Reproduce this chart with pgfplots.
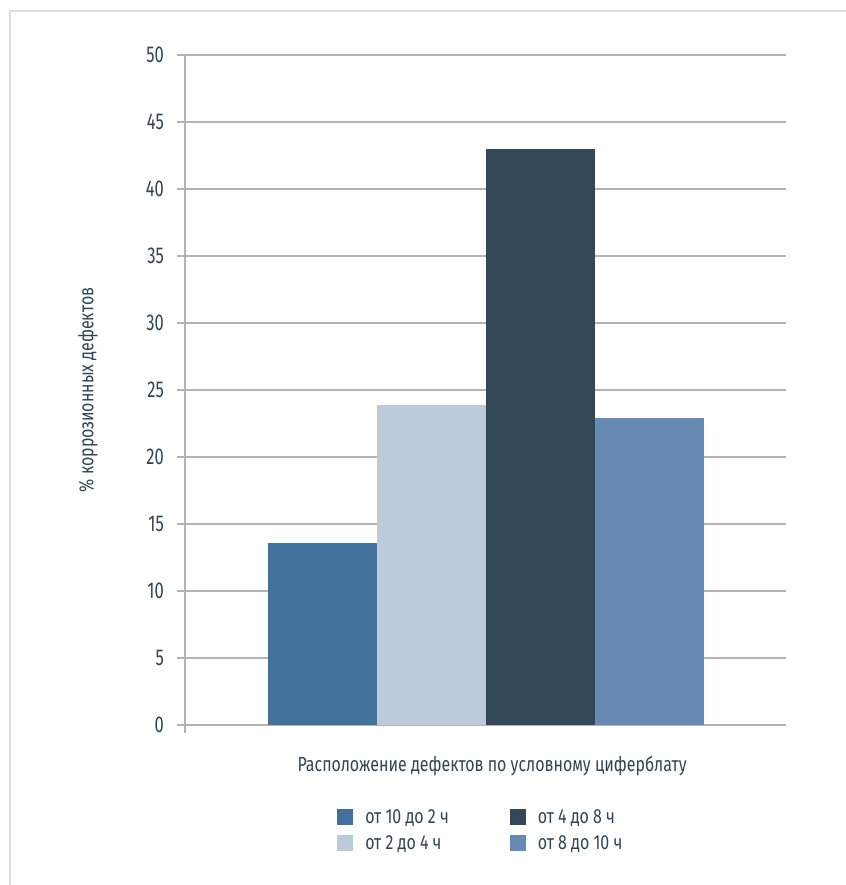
\documentclass[border=0pt]{standalone}
\usepackage{pgfplots}
\pgfplotsset{compat=1.18}
\usepackage{fontspec}
\setmainfont{Fira Sans}[FakeStretch=0.78]
\newfontfamily\tickfont{Fira Sans}[FakeStretch=0.72]
\definecolor{cA}{HTML}{43719D}
\definecolor{cB}{HTML}{BCCBD9}
\definecolor{cC}{HTML}{324859}
\definecolor{cD}{HTML}{668AB4}
\definecolor{txt}{HTML}{2E4558}
\definecolor{gridc}{HTML}{B3B3B3}
\definecolor{framec}{HTML}{DDDDDD}
\begin{document}
\begin{tikzpicture}
\path[use as bounding box] (0,0) rectangle (846bp,885bp);
\draw[framec, line width=2bp] (846bp,874bp) -- (10bp,874bp) -- (10bp,0);
\begin{axis}[
  at={(185bp,160bp)}, anchor=south west,
  scale only axis, width=601bp, height=670bp,
  xmin=-300.5, xmax=300.5, ymin=0, ymax=50,
  ytick={0,5,...,50}, xtick=\empty,
  axis x line*=bottom, axis y line*=left,
  x axis line style={draw=none},
  y axis line style={-, gridc, line width=2.5bp, shorten <=-8bp},
  ymajorgrids, grid style={gridc, line width=2.5bp},
  major tick length=8bp, tick align=outside,
  y tick style={gridc, line width=2.5bp},
  /pgf/number format/assume math mode=true,
  yticklabel style={font=\tickfont\fontsize{23}{23}\selectfont, text=txt, inner sep=0pt, xshift=-13bp},
  ylabel={\% коррозионных дефектов},
  ylabel style={at={(axis description cs:-0.1614,0.5)}, anchor=center, font=\fontsize{20.5}{20.5}\selectfont, text=txt},
  xlabel={Расположение дефектов по условному циферблату},
  xlabel style={at={(axis description cs:0.511,-0.0612)}, anchor=center, font=\fontsize{20.5}{20.5}\selectfont, text=txt},
  legend columns=2,
  legend cell align=left,
  legend style={at={(axis description cs:0.253,-0.1224)}, anchor=north west, draw=none, fill=none, inner sep=0pt,
    font=\fontsize{20.5}{20.5}\selectfont, text=txt, row sep=7bp,
    /tikz/column 1/.style={column sep=10bp},
    /tikz/column 2/.style={column sep=59bp},
    /tikz/column 3/.style={column sep=10bp}},
  legend image code/.code={\fill[#1] (0bp,-8bp) rectangle (16bp,8bp);},
  clip=false,
]
\addplot[ybar, bar width=109bp, bar shift=-163.5bp, fill=cA, draw=none, forget plot] coordinates {(0,13.6)};
\addplot[ybar, bar width=109bp, bar shift=-54.5bp, fill=cB, draw=none, forget plot] coordinates {(0,23.9)};
\addplot[ybar, bar width=109bp, bar shift=54.5bp, fill=cC, draw=none, forget plot] coordinates {(0,43)};
\addplot[ybar, bar width=109bp, bar shift=163.5bp, fill=cD, draw=none, forget plot] coordinates {(0,22.9)};
\addlegendimage{fill=cA, draw=none}
\addlegendentry{от 10 до 2 ч}
\addlegendimage{fill=cC, draw=none}
\addlegendentry{от 4 до 8 ч}
\addlegendimage{fill=cB, draw=none}
\addlegendentry{от 2 до 4 ч}
\addlegendimage{fill=cD, draw=none}
\addlegendentry{от 8 до 10 ч}
\end{axis}
\end{tikzpicture}
\end{document}
